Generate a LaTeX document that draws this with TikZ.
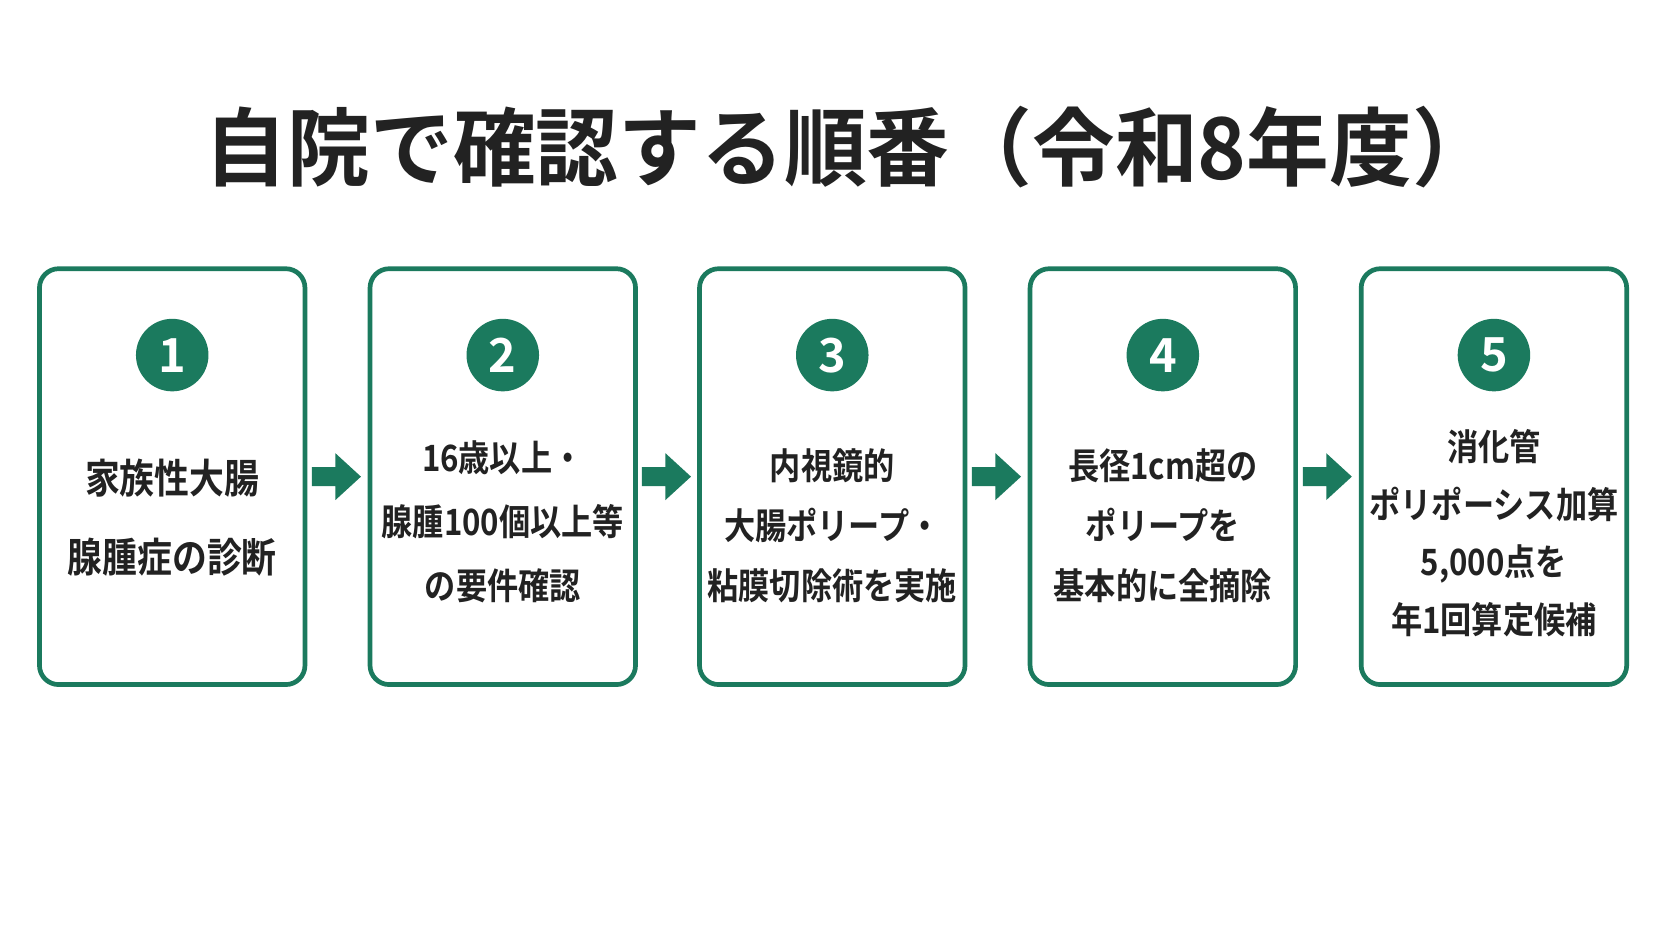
\documentclass[tikz,border=0pt]{standalone}
\usepackage{fontspec}
\newfontfamily\cjk{Noto Sans CJK JP Bold}
\newfontfamily\cjkn[FakeStretch=0.86]{Noto Sans CJK JP Bold}
\newfontfamily\cjkt[FakeStretch=0.97]{Noto Sans CJK JP Bold}
\definecolor{grn}{HTML}{1B7A5E}
\definecolor{txt}{HTML}{222222}
\begin{document}
\begin{tikzpicture}[x=0.5pt,y=-0.5pt,
  box/.style={draw=grn,line width=2.2pt,rounded corners=9pt,minimum width=124.5pt,minimum height=195pt,fill=white},
  num/.style={circle,fill=grn,minimum size=34pt,inner sep=0pt,text=white,font=\cjk\fontsize{22}{22}\selectfont},
  lbl/.style 2 args={align=center,text=txt,font=\cjkn\fontsize{#1}{#2}\selectfont},
  arr/.style={fill=grn,draw=none}]
\useasboundingbox (0,0) rectangle (1568,882);
\node[text=txt,font=\cjkt\fontsize{40}{40}\selectfont] (title) at (797,138) {自院で確認する順番（令和8年度）};
\foreach \i/\x in {1/161.5,2/471.5,3/780.5,4/1090.5,5/1401}{
  \node[box] (b\i) at (\x,447) {};
  \node[num] (n\i) at (\x,333) {\i};
}
\node[lbl={19}{37}] (t1) at (161.5,485) {家族性大腸\\腺腫症の診断};
\node[lbl={17}{30}] (t2) at (471.5,489) {16歳以上・\\腺腫100個以上等\\の要件確認};
\node[lbl={17}{28}] (t3) at (780.5,493) {内視鏡的\\大腸ポリープ・\\粘膜切除術を実施};
\node[lbl={17}{28}] (t4) at (1090.5,493) {長径1cm超の\\ポリープを\\基本的に全摘除};
\node[lbl={17}{27}] (t5) at (1401,500) {消化管\\ポリポーシス加算\\5,000点を\\年1回算定候補};
\foreach \a/\b in {1/2,2/3,3/4,4/5}{
  \path (b\a.east) -- (b\b.west) coordinate[pos=0.5] (m\a);
  \fill[grn] ([shift={(-24,-9)}]m\a) -- ([shift={(-2,-9)}]m\a) -- ([shift={(-2,-22)}]m\a)
    -- ([shift={(22,0)}]m\a) -- ([shift={(-2,22)}]m\a) -- ([shift={(-2,9)}]m\a)
    -- ([shift={(-24,9)}]m\a) -- cycle;
}
\end{tikzpicture}
\end{document}
